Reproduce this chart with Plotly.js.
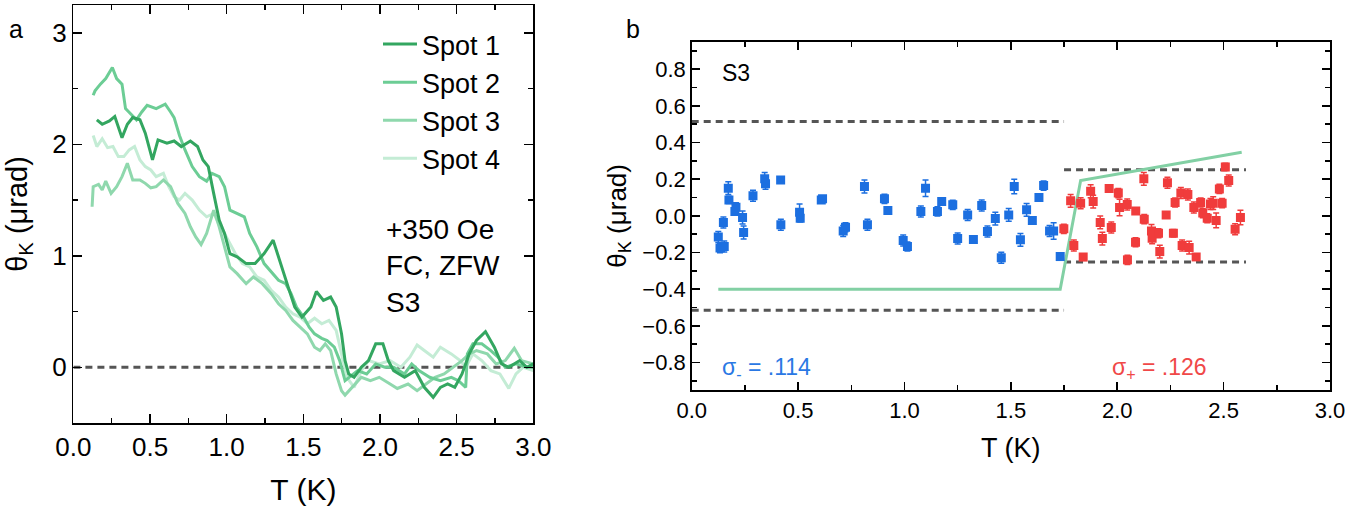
<!DOCTYPE html>
<html>
<head>
<meta charset="utf-8">
<script src="https://cdn.plot.ly/plotly-3.0.1.min.js"></script>
<style>html,body{margin:0;padding:0;background:#fff;}#chart{width:1372px;height:517px;}</style>
</head>
<body>
<div id="chart"></div>
<script>
// ---------- Panel a : Kerr angle vs T for four spots ----------
const spot1T = [0.153,0.188,0.235,0.270,0.317,0.352,0.387,0.434,0.469,0.516,0.552,0.610,0.657,0.704,0.763,0.810,0.845,0.880,0.915,0.951,0.986,1.021,1.068,1.127,1.185,1.244,1.303,1.350,1.408,1.444,1.491,1.549,1.585,1.631,1.678,1.714,1.749,1.772,1.796,1.831,1.878,1.925,1.972,2.019,2.054,2.089,2.160,2.230,2.289,2.347,2.394,2.441,2.488,2.535,2.582,2.629,2.688,2.746,2.793,2.840,2.911,2.958,3.000];
const spot1Theta = [2.22,2.18,2.21,2.25,2.06,2.18,2.24,2.22,2.10,1.86,2.04,2.01,2.03,1.98,2.03,1.98,1.86,1.80,1.56,1.32,1.20,1.02,0.99,0.93,0.93,1.02,1.14,0.93,0.69,0.54,0.45,0.54,0.68,0.60,0.63,0.54,0.30,0.06,-0.06,-0.09,0.0,0.06,0.21,0.21,0.06,-0.03,-0.09,-0.03,-0.18,-0.27,-0.18,-0.15,-0.18,-0.06,0.12,0.24,0.32,0.18,0.03,0.0,0.06,0.0,0.03];

const spot2T = [0.129,0.141,0.176,0.211,0.254,0.282,0.317,0.340,0.376,0.411,0.446,0.481,0.540,0.599,0.634,0.657,0.692,0.728,0.775,0.822,0.869,0.904,0.951,0.986,1.021,1.068,1.115,1.150,1.197,1.244,1.291,1.338,1.385,1.420,1.455,1.502,1.538,1.573,1.620,1.655,1.702,1.737,1.772,1.819,1.854,1.913,1.972,2.031,2.089,2.160,2.207,2.254,2.324,2.394,2.465,2.512,2.559,2.570,2.606,2.664,2.723,2.770,2.817,2.887,2.958,3.000];
const spot2Theta = [2.44,2.48,2.54,2.59,2.69,2.59,2.54,2.32,2.27,2.22,2.29,2.35,2.32,2.36,2.29,2.24,2.08,1.95,1.80,1.71,1.67,1.74,1.71,1.62,1.41,1.38,1.35,1.20,1.08,0.93,0.86,0.78,0.75,0.66,0.54,0.45,0.36,0.30,0.26,0.24,0.18,0.06,-0.12,-0.07,-0.03,-0.06,0.03,0.0,0.0,-0.06,0.03,-0.03,-0.09,-0.12,-0.09,-0.12,-0.18,0.12,0.21,0.21,0.15,0.09,0.0,0.03,0.0,0.0];

const spot3T = [0.122,0.129,0.164,0.188,0.211,0.246,0.282,0.317,0.352,0.387,0.434,0.469,0.505,0.540,0.587,0.634,0.681,0.728,0.763,0.798,0.833,0.869,0.915,0.951,0.986,1.021,1.068,1.127,1.174,1.232,1.291,1.338,1.385,1.432,1.479,1.526,1.573,1.608,1.643,1.678,1.714,1.749,1.772,1.819,1.878,1.937,1.995,2.066,2.113,2.183,2.242,2.300,2.359,2.418,2.477,2.535,2.582,2.629,2.700,2.758,2.817,2.876,2.923,3.000];
const spot3Theta = [1.44,1.62,1.64,1.59,1.67,1.56,1.62,1.71,1.83,1.68,1.68,1.65,1.61,1.62,1.68,1.62,1.47,1.38,1.26,1.17,1.10,1.20,1.41,1.26,1.08,0.90,0.84,0.75,0.81,0.75,0.66,0.57,0.51,0.42,0.36,0.30,0.18,0.15,0.21,0.15,-0.06,-0.21,-0.25,-0.18,-0.09,-0.12,-0.09,-0.15,-0.19,-0.15,-0.21,-0.15,-0.09,-0.06,0.0,0.06,0.12,0.15,0.12,0.03,0.06,0.17,0.06,0.03];

const spot4T = [0.129,0.153,0.188,0.223,0.258,0.293,0.329,0.364,0.399,0.434,0.469,0.505,0.540,0.587,0.622,0.657,0.692,0.728,0.775,0.822,0.869,0.915,0.962,1.009,1.056,1.103,1.150,1.197,1.244,1.291,1.338,1.385,1.432,1.479,1.526,1.573,1.620,1.667,1.714,1.749,1.784,1.831,1.878,1.925,1.995,2.066,2.136,2.195,2.242,2.289,2.347,2.394,2.465,2.523,2.559,2.606,2.664,2.723,2.782,2.840,2.887,2.934,3.000];
const spot4Theta = [2.08,1.98,2.05,1.97,1.98,1.89,1.89,1.95,1.98,1.86,1.80,1.77,1.71,1.74,1.62,1.53,1.50,1.56,1.50,1.41,1.35,1.38,1.26,1.14,1.02,0.93,0.90,0.81,0.78,0.69,0.63,0.54,0.48,0.45,0.39,0.44,0.39,0.42,0.33,0.12,-0.09,-0.18,-0.03,0.06,0.03,0.06,0.0,0.09,0.20,0.15,0.09,0.18,0.12,0.06,0.0,0.12,0.06,-0.03,-0.06,-0.19,-0.06,0.0,-0.03];

const spotNames = ["Spot 1","Spot 2","Spot 3","Spot 4"];
const zeroLineT = [0, 3];
const zeroLineTheta = [0, 0];

// ---------- Panel b : Kerr angle points below / above Tc ----------
const blueT = [0.125,0.133,0.153,0.149,0.172,0.175,0.203,0.208,0.239,0.244,0.288,0.343,0.347,0.418,0.419,0.507,0.510,0.609,0.615,0.712,0.723,0.812,0.826,0.906,0.922,0.994,1.014,1.077,1.099,1.155,1.175,1.227,1.250,1.297,1.324,1.363,1.390,1.427,1.455,1.490,1.516,1.545,1.574,1.601,1.632,1.654,1.682,1.701,1.732];
const blueTheta = [-0.116,-0.176,-0.167,-0.036,0.151,0.087,0.024,0.047,-0.009,-0.091,0.109,0.202,0.175,0.195,-0.049,0.020,-0.013,0.087,0.093,-0.082,-0.062,0.160,-0.049,0.093,0.029,-0.135,-0.167,0.024,0.151,0.024,0.078,0.060,-0.124,0.005,-0.129,0.056,-0.085,-0.015,-0.229,0.005,0.160,-0.131,0.033,-0.025,0.100,0.165,-0.082,-0.082,-0.222];
const blueErr = [0.03,0.025,0.03,0.03,0.035,0.02,0.02,0.025,0.035,0.035,0.03,0.035,0.03,0.015,0.03,0.045,0.02,0.015,0.015,0.03,0.025,0.035,0.03,0.025,0.02,0.03,0.025,0.03,0.045,0.025,0.02,0.025,0.03,0.03,0.02,0.03,0.03,0.035,0.03,0.035,0.04,0.035,0.035,0.015,0.015,0.025,0.03,0.045,0.01];

const redT = [1.749,1.781,1.796,1.828,1.840,1.875,1.887,1.920,1.930,1.962,1.972,2.005,2.011,2.047,2.048,2.087,2.086,2.125,2.127,2.161,2.164,2.194,2.200,2.230,2.236,2.264,2.272,2.299,2.305,2.332,2.338,2.360,2.371,2.392,2.402,2.423,2.438,2.451,2.465,2.480,2.493,2.508,2.524,2.554,2.579];
const redTheta = [-0.071,0.082,-0.162,0.069,-0.225,0.134,0.078,-0.036,-0.124,0.149,-0.064,0.124,0.045,0.062,-0.240,0.027,-0.144,0.202,-0.018,-0.082,-0.122,-0.095,-0.195,0.004,0.180,-0.095,0.073,0.124,-0.162,0.116,-0.173,0.045,-0.224,0.073,0.015,-0.013,0.064,0.069,-0.025,0.147,0.069,0.267,0.193,-0.073,-0.009];
const redErr = [0.025,0.035,0.03,0.03,0.01,0.035,0.035,0.035,0.035,0.02,0.03,0.025,0.045,0.03,0.025,0.015,0.025,0.035,0.025,0.035,0.03,0.025,0.035,0.01,0.03,0.02,0.025,0.03,0.03,0.03,0.035,0.03,0.015,0.025,0.025,0.025,0.03,0.035,0.04,0.025,0.025,0.02,0.03,0.03,0.04];

const modelT = [0.125, 1.732, 1.828, 2.585];
const modelTheta = [-0.40, -0.40, 0.193, 0.347];

const bandMinusT = [0, 1.75];
const bandMinus = 0.515;   // dashed bounds below Tc
const bandPlusT = [1.75, 2.605];
const bandPlus = 0.252;    // dashed bounds above Tc

const sigmaMinusLabel = "σ<sub>-</sub> = .114";
const sigmaPlusLabel = "σ<sub>+</sub> = .126";

// ---------- styling ----------
const FONT = "Liberation Sans, Arial, Helvetica, sans-serif";
const spotColors = ["#33a660", "#6ccd95", "#8fd8ad", "#c4ecd5"];
const dashColor = "#555555";
const DASH = '7px,5px';
const blue = "#1c6fe0";
const red = "#f03c3c";
const W = 1372, H = 517;

function px(x){ return x / W; }
function py(y){ return 1 - y / H; }

const traces = [];
traces.push({x: zeroLineT, y: zeroLineTheta, xaxis:'x', yaxis:'y', mode:'lines',
  line:{color:dashColor, width:3, dash:DASH}, showlegend:false, hoverinfo:'skip'});
const spotT = [spot1T, spot2T, spot3T, spot4T];
const spotTheta = [spot1Theta, spot2Theta, spot3Theta, spot4Theta];
for (let i = 3; i >= 0; i--) {
  traces.push({x: spotT[i], y: spotTheta[i], xaxis:'x', yaxis:'y', mode:'lines',
    name: spotNames[i], legendrank: i+1,
    line:{color: spotColors[i], width: 3}});
}

// panel b
[bandMinus, -bandMinus].forEach(v => traces.push({x: bandMinusT, y: [v, v], xaxis:'x2', yaxis:'y2',
  mode:'lines', line:{color:dashColor, width:3, dash:DASH}, showlegend:false}));
[bandPlus, -bandPlus].forEach(v => traces.push({x: bandPlusT, y: [v, v], xaxis:'x2', yaxis:'y2',
  mode:'lines', line:{color:dashColor, width:3, dash:DASH}, showlegend:false}));
traces.push({x: modelT, y: modelTheta, xaxis:'x2', yaxis:'y2', mode:'lines',
  line:{color:'#82d0a4', width:3}, showlegend:false});
traces.push({x: blueT, y: blueTheta, xaxis:'x2', yaxis:'y2', mode:'markers', showlegend:false,
  marker:{symbol:'square', size:9, color: blue},
  error_y:{type:'data', array: blueErr, color: blue, thickness:1.5, width:3}});
traces.push({x: redT, y: redTheta, xaxis:'x2', yaxis:'y2', mode:'markers', showlegend:false,
  marker:{symbol:'square', size:9, color: red},
  error_y:{type:'data', array: redErr, color: red, thickness:1.5, width:3}});

const axCommon = {showgrid:false, zeroline:false, showline:true, linecolor:'#000', linewidth:1.5,
  mirror:'ticks', ticks:'inside', tickcolor:'#000', tickwidth:1.5, automargin:false};

const layout = {
  width: W, height: H,
  margin: {l:0, r:0, t:0, b:0},
  paper_bgcolor:'#fff', plot_bgcolor:'#fff',
  font: {family: FONT, color:'#000'},
  showlegend: true,
  legend: {x: px(378), y: py(20), xanchor:'left', yanchor:'top', bgcolor:'rgba(0,0,0,0)',
    font:{size:27, family:FONT}, tracegroupgap:0, itemwidth:34},
  xaxis: Object.assign({}, axCommon, {domain:[px(73.4), px(533.3)], anchor:'y', range:[0,3],
    dtick:0.5, tick0:0, tickformat:'.1f', ticklen:9, tickfont:{size:26},
    minor:{ticks:'inside', dtick:0.25, ticklen:5, tickwidth:1.5, tickcolor:'#000'},
    title:{text:'T (K)', font:{size:30}, standoff:18}}),
  yaxis: Object.assign({}, axCommon, {domain:[py(423), py(5)], anchor:'x', range:[-0.5,3.25],
    dtick:1, tick0:0, ticklen:9, tickfont:{size:26},
    minor:{ticks:'inside', dtick:0.5, ticklen:5, tickwidth:1.5, tickcolor:'#000'},
    title:{text:'θ<sub>K</sub> (μrad)', font:{size:29}, standoff:16}}),
  xaxis2: Object.assign({}, axCommon, {domain:[px(691.7), px(1330)], anchor:'y2', range:[0,3],
    dtick:0.5, tick0:0, tickformat:'.1f', ticklen:8, tickfont:{size:22},
    minor:{ticks:'inside', dtick:0.25, ticklen:5, tickwidth:1.5, tickcolor:'#000'},
    title:{text:'T (K)', font:{size:27}, standoff:16}}),
  yaxis2: Object.assign({}, axCommon, {domain:[py(390), py(41.7)], anchor:'x2', range:[-0.95,0.95],
    dtick:0.2, tick0:0, tickformat:'.1f', ticklen:8, tickfont:{size:22},
    minor:{ticks:'inside', dtick:0.1, ticklen:5, tickwidth:1.5, tickcolor:'#000'},
    title:{text:'θ<sub>K</sub> (μrad)', font:{size:26}, standoff:8}}),
  annotations: [
    {text:'a', xref:'paper', yref:'paper', x:px(7), y:py(29), xanchor:'left', yanchor:'middle', showarrow:false, font:{size:25}},
    {text:'b', xref:'paper', yref:'paper', x:px(624), y:py(29), xanchor:'left', yanchor:'middle', showarrow:false, font:{size:25}},
    {text:'+350 Oe<br>FC, ZFW<br>S3', xref:'paper', yref:'paper', x:px(384), y:py(212), xanchor:'left', yanchor:'top', align:'left', showarrow:false, font:{size:28}},
    {text:'S3', xref:'paper', yref:'paper', x:px(720), y:py(73), xanchor:'left', yanchor:'middle', showarrow:false, font:{size:23}},
    {text:sigmaMinusLabel, xref:'paper', yref:'paper', x:px(720), y:py(368), xanchor:'left', yanchor:'middle', showarrow:false, font:{size:23, color:'#2a78e4'}},
    {text:sigmaPlusLabel, xref:'paper', yref:'paper', x:px(1110), y:py(368), xanchor:'left', yanchor:'middle', showarrow:false, font:{size:23, color:'#f04848'}}
  ]
};

Plotly.newPlot('chart', traces, layout, {staticPlot:true, displayModeBar:false});
</script>
</body>
</html>
